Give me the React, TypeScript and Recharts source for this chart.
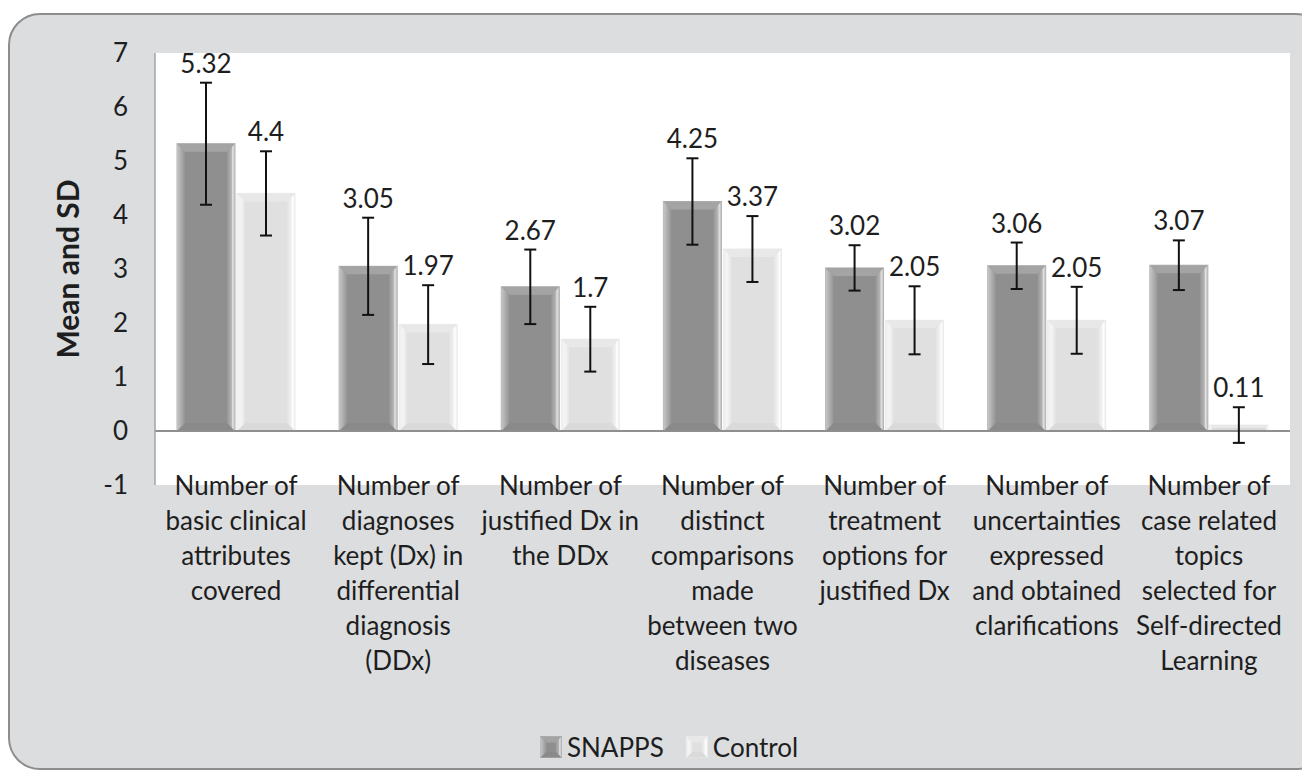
import React from 'react';
import {
  BarChart,
  Bar,
  XAxis,
  YAxis,
  CartesianGrid,
  ErrorBar,
  LabelList,
  Label,
  Legend,
  ReferenceLine,
} from 'recharts';

const categories = [
  'Number of\nbasic clinical\nattributes\ncovered',
  'Number of\ndiagnoses\nkept (Dx) in\ndifferential\ndiagnosis\n(DDx)',
  'Number of\njustified Dx in\nthe DDx',
  'Number of\ndistinct\ncomparisons\nmade\nbetween two\ndiseases',
  'Number of\ntreatment\noptions for\njustified Dx',
  'Number of\nuncertainties\nexpressed\nand obtained\nclarifications',
  'Number of\ncase related\ntopics\nselected for\nSelf-directed\nLearning',
];
const snappsMean = [5.32, 3.05, 2.67, 4.25, 3.02, 3.06, 3.07];
const snappsSd = [1.13, 0.9, 0.69, 0.8, 0.42, 0.43, 0.46];
const controlMean = [4.4, 1.97, 1.7, 3.37, 2.05, 2.05, 0.11];
const controlSd = [0.78, 0.73, 0.6, 0.61, 0.63, 0.62, 0.33];
const yTicks = [-1, 0, 1, 2, 3, 4, 5, 6, 7];
const seriesOrder = ['snapps', 'control'];

const data = categories.map((name, i) => ({
  name,
  snapps: snappsMean[i],
  snappsSd: snappsSd[i],
  control: controlMean[i],
  controlSd: controlSd[i],
}));

const FONT = "Lato, 'Open Sans', sans-serif";
const TEXT = '#1e1e1e';

const tones: Record<string, any> = {
  dark: { base: '#8f8f8f', edge: '#b2b2b2', top: '#a4a4a4', bottom: '#8a8a8a', left: 'url(#darkLeft)', right: 'url(#darkRight)' },
  light: { base: '#e0e0e0', edge: '#ebebeb', top: '#e8e8e8', bottom: '#dadada', left: 'url(#lightLeft)', right: 'url(#lightRight)' },
};

const bevel = (x: number, y: number, w: number, h: number, t: any, size = 8) => {
  const b = Math.min(size, w / 2, h / 2);
  return (
    <g>
      <rect x={x} y={y} width={w} height={h} fill={t.base} stroke={t.edge} strokeWidth={1} />
      <polygon points={`${x},${y} ${x + w},${y} ${x + w - b},${y + b} ${x + b},${y + b}`} fill={t.top} />
      <polygon points={`${x},${y + h} ${x + w},${y + h} ${x + w - b},${y + h - b} ${x + b},${y + h - b}`} fill={t.bottom} />
      <polygon points={`${x},${y} ${x + b},${y + b} ${x + b},${y + h - b} ${x},${y + h}`} fill={t.left} />
      <polygon points={`${x + w},${y} ${x + w - b},${y + b} ${x + w - b},${y + h - b} ${x + w},${y + h}`} fill={t.right} />
    </g>
  );
};

const BevelBar = (props: any) => {
  const { x, y, width, height, tone } = props;
  if (!height || height <= 0) return null;
  return bevel(x, y, width, height, tones[tone]);
};

const CategoryTick = ({ x, y, payload }: any) => {
  const lines = String(payload.value).split('\n');
  return (
    <text x={x} y={y} textAnchor="middle" fill={TEXT} fontSize={26} fontFamily={FONT}>
      {lines.map((l, i) => (
        <tspan key={i} x={x} dy={i === 0 ? 10 : 35}>
          {l}
        </tspan>
      ))}
    </text>
  );
};

const valueLabel = (sds: number[]) => (props: any) => {
  const { x, y, width, height, value, index } = props;
  const perUnit = height / value;
  const errTop = y - sds[index] * perUnit;
  return (
    <text x={x + width / 2} y={errTop - 20} textAnchor="middle" dominantBaseline="central" fill={TEXT} fontSize={26} fontFamily={FONT}>
      {value}
    </text>
  );
};

const renderLegend = (props: any) => {
  const items = [...(props.payload || [])].sort(
    (a: any, b: any) => seriesOrder.indexOf(a.dataKey) - seriesOrder.indexOf(b.dataKey)
  );
  return (
    <div style={{ display: 'flex', justifyContent: 'center', alignItems: 'center', paddingLeft: 20, fontFamily: FONT, fontSize: 26, color: TEXT }}>
      {items.map((it: any, i: number) => (
        <div key={i} style={{ display: 'flex', alignItems: 'center', marginRight: i === 0 ? 22 : 0 }}>
          <svg width={22} height={22} style={{ marginRight: 5 }}>
            {bevel(0.5, 0.5, 21, 21, tones[it.dataKey === 'snapps' ? 'dark' : 'light'], 6)}
          </svg>
          <span>{it.value}</span>
        </div>
      ))}
    </div>
  );
};

export default function App() {
  return (
    <div style={{ position: 'relative', width: 1302, height: 768, overflow: 'hidden' }}>
      <div
        style={{
          position: 'absolute',
          left: 0,
          top: 5,
          width: 1320,
          height: 757,
          boxSizing: 'border-box',
          background: '#dcdddf',
          border: '2px solid #8d8d8d',
          borderRadius: 32,
        }}
      />
      <div style={{ position: 'absolute', left: 0, top: 0 }}>
        <BarChart
          width={1302}
          height={768}
          data={data}
          margin={{ top: 45, right: 20, bottom: 91, left: 0 }}
          barSize={58}
          barGap={2}
        >
          <defs>
            <linearGradient id="darkLeft" x1="0" y1="0" x2="1" y2="0">
              <stop offset="0%" stopColor="#c6c6c6" />
              <stop offset="45%" stopColor="#b0b0b0" />
              <stop offset="100%" stopColor="#949494" />
            </linearGradient>
            <linearGradient id="darkRight" x1="0" y1="0" x2="1" y2="0">
              <stop offset="0%" stopColor="#969696" />
              <stop offset="55%" stopColor="#b4b4b4" />
              <stop offset="70%" stopColor="#e2e2e2" />
              <stop offset="100%" stopColor="#b8b8b8" />
            </linearGradient>
            <linearGradient id="lightLeft" x1="0" y1="0" x2="1" y2="0">
              <stop offset="0%" stopColor="#efefef" />
              <stop offset="50%" stopColor="#f4f4f4" />
              <stop offset="100%" stopColor="#e4e4e4" />
            </linearGradient>
            <linearGradient id="lightRight" x1="0" y1="0" x2="1" y2="0">
              <stop offset="0%" stopColor="#e2e2e2" />
              <stop offset="55%" stopColor="#f2f2f2" />
              <stop offset="70%" stopColor="#ffffff" />
              <stop offset="100%" stopColor="#ececec" />
            </linearGradient>
          </defs>
          <CartesianGrid horizontal={false} vertical={false} fill="#ffffff" />
          <XAxis
            dataKey="name"
            height={200}
            axisLine={false}
            tickLine={false}
            tickSize={0}
            tickMargin={0}
            interval={0}
            tick={<CategoryTick />}
          />
          <YAxis
            width={147}
            domain={[-1, 7]}
            ticks={yTicks}
            interval={0}
            axisLine={{ stroke: '#a3a3a3', strokeWidth: 1.5 }}
            tickLine={false}
            tickSize={0}
            tickMargin={27}
            tick={{ fill: TEXT, fontSize: 26, fontFamily: FONT }}
          >
            <Label
              value="Mean and SD"
              angle={-90}
              position="insideLeft"
              offset={60}
              style={{ textAnchor: 'middle', fontWeight: 700, fontSize: 30, fontFamily: FONT, fill: TEXT }}
            />
          </YAxis>
          <ReferenceLine y={0} stroke="#8f8f8f" strokeWidth={2} />
          <Legend
            layout="horizontal"
            verticalAlign="middle"
            align="center"
            wrapperStyle={{ top: 723, left: 0, width: 1302 }}
            content={renderLegend}
          />
          <Bar dataKey="snapps" name="SNAPPS" fill="#8f8f8f" shape={<BevelBar tone="dark" />} isAnimationActive={false}>
            <ErrorBar dataKey="snappsSd" width={6} strokeWidth={2} stroke="#111" direction="y" />
            <LabelList dataKey="snapps" content={valueLabel(snappsSd)} />
          </Bar>
          <Bar dataKey="control" name="Control" fill="#e0e0e0" shape={<BevelBar tone="light" />} isAnimationActive={false}>
            <ErrorBar dataKey="controlSd" width={6} strokeWidth={2} stroke="#111" direction="y" />
            <LabelList dataKey="control" content={valueLabel(controlSd)} />
          </Bar>
        </BarChart>
      </div>
    </div>
  );
}
